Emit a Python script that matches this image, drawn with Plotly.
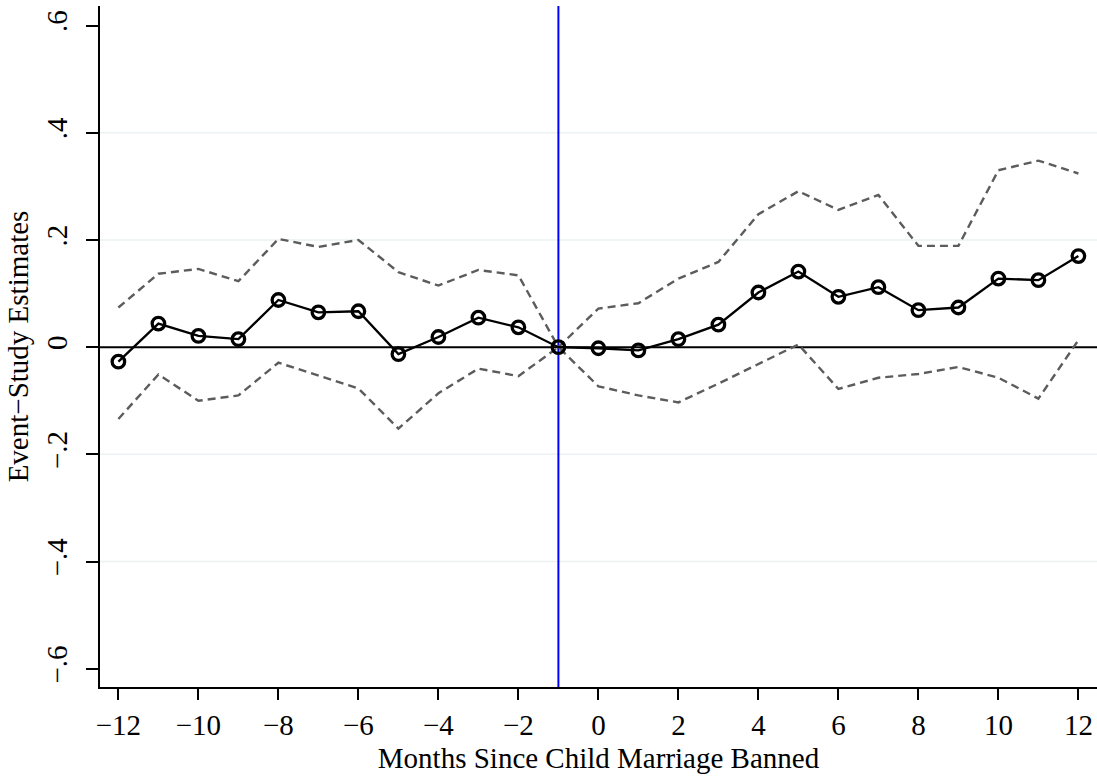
import plotly.graph_objects as go

months = list(range(-12, 13))
estimates = [-0.027, 0.044, 0.021, 0.015, 0.088, 0.065, 0.067, -0.013, 0.019, 0.055, 0.037, 0.0,
             -0.002, -0.006, 0.015, 0.042, 0.102, 0.141, 0.094, 0.112, 0.069, 0.074, 0.128, 0.125, 0.170]
upper_ci = [0.074, 0.137, 0.146, 0.123, 0.202, 0.187, 0.200, 0.140, 0.115, 0.144, 0.134, 0.0,
            0.072, 0.082, 0.128, 0.159, 0.248, 0.291, 0.256, 0.284, 0.189, 0.189, 0.330, 0.348, 0.324]
lower_ci = [-0.134, -0.051, -0.100, -0.090, -0.029, -0.053, -0.077, -0.152, -0.086, -0.040, -0.054, 0.0,
            -0.073, -0.090, -0.103, -0.068, -0.032, 0.005, -0.078, -0.057, -0.050, -0.037, -0.057, -0.096, 0.013]

x_tick_vals = list(range(-12, 13, 2))
x_tick_text = ["\u221212", "\u221210", "\u22128", "\u22126", "\u22124", "\u22122", "0", "2", "4", "6", "8", "10", "12"]
y_tick_vals = [-0.6, -0.4, -0.2, 0, 0.2, 0.4, 0.6]
y_tick_text = ["\u2212.6", "\u2212.4", "\u2212.2", "0", ".2", ".4", ".6"]
grid_vals = [-0.4, -0.2, 0.2, 0.4]
event_month = -1

FONT = "Liberation Serif"
FS = 29

fig = go.Figure()
fig.add_trace(go.Scatter(x=months, y=upper_ci, mode="lines",
                         line=dict(color="#5c5c5c", width=2.4, dash="8px,5px"), showlegend=False))
fig.add_trace(go.Scatter(x=months, y=lower_ci, mode="lines",
                         line=dict(color="#5c5c5c", width=2.4, dash="8px,5px"), showlegend=False))
fig.add_trace(go.Scatter(x=months, y=estimates, mode="lines+markers",
                         line=dict(color="black", width=2.3),
                         marker=dict(symbol="circle-open", size=12.5, color="black", line=dict(width=3.3)),
                         showlegend=False))

shapes = []
for g in grid_vals:
    shapes.append(dict(type="line", xref="paper", x0=0, x1=1, yref="y", y0=g, y1=g,
                       line=dict(color="#EAF2F3", width=1.5), layer="below"))
shapes.append(dict(type="line", xref="paper", x0=0, x1=1, yref="y", y0=0, y1=0,
                   line=dict(color="black", width=2), layer="below"))
shapes.append(dict(type="line", xref="x", x0=event_month, x1=event_month, yref="paper", y0=0, y1=1,
                   line=dict(color="#0000FF", width=2), layer="below"))

fig.update_layout(
    width=1097, height=777,
    margin=dict(l=100, r=0, t=6, b=90),
    paper_bgcolor="white", plot_bgcolor="white",
    font=dict(family=FONT, color="black", size=FS),
    shapes=shapes,
    xaxis=dict(range=[-12.46, 12.465], tickvals=x_tick_vals, ticktext=x_tick_text,
               showgrid=False, zeroline=False, showline=True, linecolor="black", linewidth=2,
               ticks="outside", ticklen=11, tickwidth=1.5, tickcolor="black",
               tickfont=dict(family=FONT, size=FS),
               title=dict(text="Months Since Child Marriage Banned", font=dict(family=FONT, size=FS), standoff=8)),
    yaxis=dict(range=[-0.634, 0.6365], tickvals=y_tick_vals, ticktext=y_tick_text,
               showgrid=False, zeroline=False, showline=True, linecolor="black", linewidth=2,
               ticks="outside", ticklen=12, tickwidth=1.5, tickcolor="black", tickangle=-90,
               ticklabelstandoff=7,
               tickfont=dict(family=FONT, size=FS),
               title=dict(text="Event\u2212Study Estimates", font=dict(family=FONT, size=FS), standoff=4)),
)

fig.write_html("out.html")
